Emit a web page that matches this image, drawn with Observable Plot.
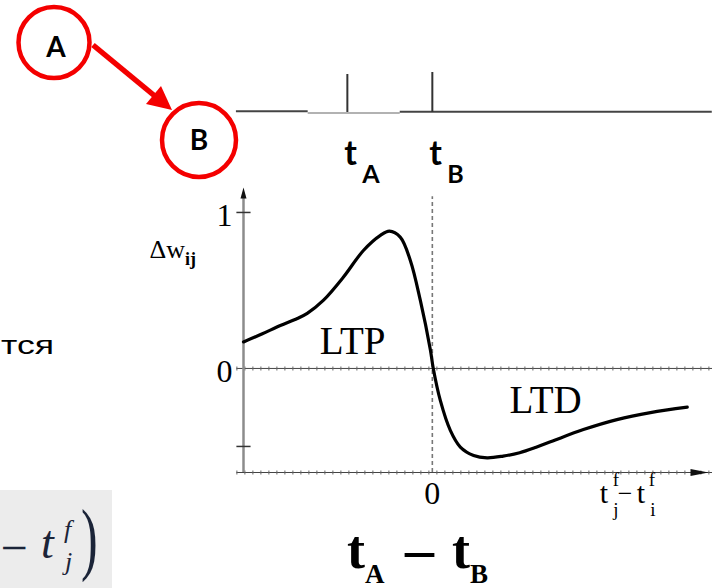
<!DOCTYPE html>
<html>
<head>
<meta charset="utf-8">
<script src="https://cdn.jsdelivr.net/npm/d3@7"></script>
<script src="https://cdn.jsdelivr.net/npm/@observablehq/plot@0.6"></script>
<style>
  html, body { margin: 0; padding: 0; background: #fff; }
  #stage { position: relative; width: 712px; height: 588px; overflow: hidden; background: #fff; }
  #stage > svg { position: absolute; left: 0; }
</style>
</head>
<body>
<div id="stage"></div>
<script>
// STDP learning window: weight change Δw_ij against spike-time difference t_j − t_i
const lagT = [-40, -36, -32.2, -28.6, -26.5, -23.1, -18.9, -14.6, -11.0, -9.1, -6.8, -4.66, -2.54, -0.42, 0.2,
              1.69, 3.81, 5.93, 8.75, 11.6, 15.0, 18.5, 22.0, 25.5, 32.0, 39.1, 46.2, 54.0];
const deltaW = [0.17, 0.222, 0.275, 0.32, 0.353, 0.436, 0.583, 0.756, 0.853, 0.88, 0.842, 0.692, 0.436, 0.12, 0,
                -0.205, -0.397, -0.504, -0.558, -0.573, -0.562, -0.54, -0.505, -0.465, -0.392, -0.328, -0.283, -0.248];

// axis extents (ends of the arrows)
const tMin = -40, tMax = 58.5;
const dwMin = -0.667, dwMax = 1.16;

// tick marks and tick labels
const yTickMarks = [1, -0.5];
const yTickLabels = [1, 0];
const xTickLabels = [0];

// region labels
const regionNames = ["LTP", "LTD"];
const regionT = [-16.9, 24.0];
const regionDW = [0.173, -0.208];

// spike trains of neurons A and B
const spikeNames = ["A", "B"];
const spikeTimes = [-18, 0];
const spikeHeights = [0.95, 1];

const curve = lagT.map((t, i) => ({t, dw: deltaW[i]}));
const regions = regionNames.map((name, i) => ({name, t: regionT[i], dw: regionDW[i]}));
const spikes = spikeNames.map((name, i) => ({name, t: spikeTimes[i], h: spikeHeights[i]}));

const serif = "Liberation Serif, Times New Roman, serif";
const sans = "Lato, Open Sans, sans-serif";

// slender filled arrowheads with the tip at the anchor point
const arrowUp = {draw(ctx) { ctx.moveTo(0, 0); ctx.lineTo(-3, 11); ctx.lineTo(3, 11); ctx.closePath(); }};
const arrowRight = {draw(ctx) { ctx.moveTo(0, 0); ctx.lineTo(-18, -3.5); ctx.lineTo(-18, 3.5); ctx.closePath(); }};

const dottedRule = (v) => [
  Plot.ruleY([v], {x1: tMin - 1.4, x2: tMax + 1, stroke: "#444", strokeWidth: 1}),
  Plot.ruleY([v], {x1: tMin - 1.4, x2: tMax + 1, stroke: "#666", strokeWidth: 4, strokeDasharray: "1,7"})
];

const main = Plot.plot({
  width: 712, height: 588,
  marginLeft: 243, marginRight: 4, marginTop: 187, marginBottom: 116,
  x: {domain: [tMin, tMax], axis: null},
  y: {domain: [dwMin, dwMax], axis: null},
  style: {background: "transparent", overflow: "visible"},
  marks: [
    ...dottedRule(0),
    ...dottedRule(dwMin),
    Plot.ruleX([0], {y1: dwMin, y2: 1.1, stroke: "#777", strokeWidth: 1.6, strokeDasharray: "4,3"}),
    Plot.ruleX([tMin], {y1: dwMin, y2: dwMax - 0.05, stroke: "#8c8c8c", strokeWidth: 2.5}),
    Plot.ruleY(yTickMarks, {x1: tMin - 1.4, x2: tMin + 1.6, stroke: "#333", strokeWidth: 1.5}),
    Plot.dot([0], {x: tMin, y: dwMax, symbol: arrowUp, fill: "#111", stroke: "none"}),
    Plot.dot([0], {x: tMax, y: dwMin, symbol: arrowRight, fill: "#111", stroke: "none"}),
    Plot.line(curve, {x: "t", y: "dw", curve: "catmull-rom", stroke: "#000", strokeWidth: 3.2}),
    Plot.text(regions, {x: "t", y: "dw", text: "name", fontSize: 39, fontFamily: serif, fill: "#000"}),
    Plot.text(yTickLabels, {x: tMin, y: d => d, text: d => String(d), textAnchor: "end", dx: -11, dy: 3,
      fontSize: 32, fontFamily: serif, fill: "#000"}),
    Plot.text(xTickLabels, {x: d => d, y: dwMin, text: d => String(d), dy: 21,
      fontSize: 32, fontFamily: serif, fill: "#000"})
  ]
});
main.style.top = "0px";

const stage = document.getElementById("stage");
stage.appendChild(main);

// axis titles with sub/superscripts
{
  const sx = main.scale("x"), sy = main.scale("y");
  const svg = d3.select(main);
  const yTitle = svg.append("text")
    .attr("x", sx.apply(tMin) - 47).attr("y", sy.apply(0.705))
    .attr("text-anchor", "end").attr("font-family", serif).attr("font-size", 26).attr("fill", "#000");
  yTitle.append("tspan").text("Δw");
  yTitle.append("tspan").attr("dy", 7).attr("font-size", 18).attr("font-weight", "bold").text("ij");

  const x0 = sx.apply(tMax), yb = sy.apply(dwMin);
  const g = svg.append("g").attr("font-family", serif).attr("fill", "#000");
  const part = (dx, dy, size, s) =>
    g.append("text").attr("x", x0 + dx).attr("y", yb + dy).attr("font-size", size).text(s);
  part(-104, 31, 30, "t");
  part(-92, 14, 19, "f");
  part(-92, 44, 19, "j");
  part(-83, 30, 26, "−");
  part(-67, 31, 30, "t");
  part(-56, 14, 19, "f");
  part(-55, 44, 19, "i");
}

// spike raster above the window, sharing its time axis
const raster = Plot.plot({
  width: 712, height: 130,
  marginLeft: 243, marginRight: 4, marginTop: 12, marginBottom: 78,
  x: {domain: [tMin, tMax], axis: null},
  y: {domain: [0, 1], axis: null},
  style: {background: "transparent", overflow: "visible"},
  marks: [
    Plot.ruleY([0.03], {x1: -41.5, x2: -26.3, stroke: "#444", strokeWidth: 2}),
    Plot.ruleY([-0.01], {x1: -26.3, x2: -6.8, stroke: "#999", strokeWidth: 1.5}),
    Plot.ruleY([0.02], {x1: -6.8, x2: 59.3, stroke: "#444", strokeWidth: 2}),
    Plot.ruleX(spikes, {x: "t", y1: 0, y2: "h", stroke: "#333", strokeWidth: 2}),
    Plot.text(spikes, {x: "t", y: -1.05, text: () => "t", textAnchor: "start", dx: -3,
      fontSize: 34, fontWeight: "bold", fontFamily: sans, fill: "#000"}),
    Plot.text(spikes, {x: "t", y: -1.55, text: "name", textAnchor: "start", dx: 15,
      fontSize: 25, fontWeight: "bold", fontFamily: sans, fill: "#000"})
  ]
});
raster.style.top = "60px";
stage.appendChild(raster);

// connection diagram A → B, surrounding slide text
const ns = "http://www.w3.org/2000/svg";
const deco = d3.select(stage).append("svg")
  .attr("xmlns", ns).attr("width", 712).attr("height", 588).style("top", "0px");

const red = "#f40000";
deco.append("circle").attr("cx", 54).attr("cy", 42.5).attr("r", 35.5)
  .attr("fill", "none").attr("stroke", red).attr("stroke-width", 4.5);
deco.append("circle").attr("cx", 199).attr("cy", 140).attr("r", 37)
  .attr("fill", "none").attr("stroke", red).attr("stroke-width", 4.5);
deco.append("text").attr("x", 56).attr("y", 57).attr("text-anchor", "middle")
  .attr("font-family", sans).attr("font-weight", "bold").attr("font-size", 28).text("A");
deco.append("text").attr("x", 199).attr("y", 150).attr("text-anchor", "middle")
  .attr("font-family", sans).attr("font-weight", "bold").attr("font-size", 28).text("B");
deco.append("line").attr("x1", 93).attr("y1", 45).attr("x2", 156).attr("y2", 97)
  .attr("stroke", red).attr("stroke-width", 5.5);
deco.append("polygon").attr("points", "172,110 146,104 161,86").attr("fill", red);

// trailing word of the slide text
deco.append("text").attr("x", 1).attr("y", 354)
  .attr("font-family", "Liberation Sans, Arial, sans-serif").attr("font-size", 26)
  .attr("textLength", 53).attr("lengthAdjust", "spacingAndGlyphs")
  .attr("fill", "#000").text("тся");

// formula fragment
deco.append("rect").attr("x", 0).attr("y", 490).attr("width", 112).attr("height", 98).attr("fill", "#ececec");
const ink = "#1b2438";
deco.append("text").attr("x", 14).attr("y", 564).attr("text-anchor", "middle")
  .attr("font-family", serif).attr("font-size", 48).attr("fill", ink).text("−");
deco.append("text").attr("x", 41).attr("y", 558)
  .attr("font-family", serif).attr("font-style", "italic").attr("font-size", 46).attr("fill", ink).text("t");
deco.append("text").attr("x", 64).attr("y", 538)
  .attr("font-family", serif).attr("font-style", "italic").attr("font-size", 26).attr("fill", ink).text("f");
deco.append("text").attr("x", 65).attr("y", 570)
  .attr("font-family", serif).attr("font-style", "italic").attr("font-size", 26).attr("fill", ink).text("j");
deco.append("text").attr("transform", "translate(81,0) scale(1,1.6)").attr("x", 0).attr("y", 353)
  .attr("font-family", serif).attr("font-size", 50).attr("fill", ink).text(")");

// t_A − t_B caption
const cap = deco.append("text").attr("font-family", serif).attr("font-weight", "bold").attr("fill", "#000");
cap.append("tspan").attr("x", 347).attr("y", 568).attr("font-size", 54).text("t");
cap.append("tspan").attr("x", 365).attr("y", 583).attr("font-size", 27).text("A");
cap.append("tspan").attr("x", 405).attr("y", 568).attr("font-size", 58).text("–");
cap.append("tspan").attr("x", 452).attr("y", 568).attr("font-size", 54).text("t");
cap.append("tspan").attr("x", 470).attr("y", 583).attr("font-size", 27).text("B");
</script>
</body>
</html>
